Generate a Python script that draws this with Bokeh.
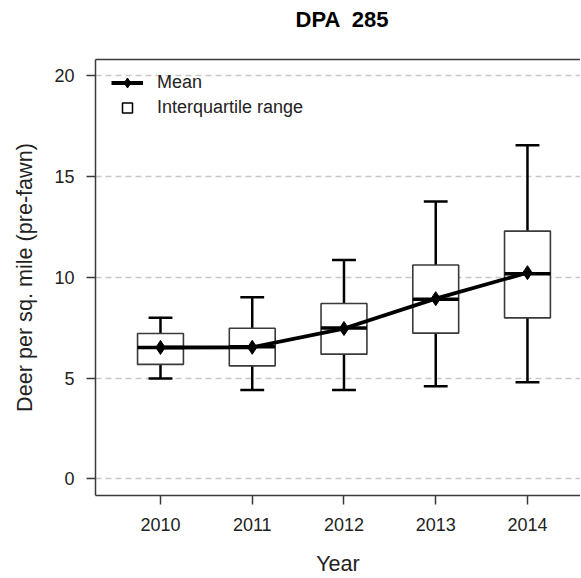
import numpy as np
from bokeh.plotting import figure
from bokeh.layouts import column
from bokeh.models import (ColumnDataSource, FixedTicker, Legend, LegendItem,
                          Range1d, LinearAxis, Div)
from bokeh.embed import file_html
from bokeh.resources import INLINE

# ---- data ----
years = [2010, 2011, 2012, 2013, 2014]
q1 = [5.68, 5.61, 6.19, 7.23, 7.99]
q3 = [7.21, 7.47, 8.70, 10.61, 12.29]
medians = [6.52, 6.55, 7.49, 8.91, 10.18]
means = [6.52, 6.53, 7.46, 8.94, 10.23]
whisker_low = [4.98, 4.41, 4.41, 4.60, 4.79]
whisker_high = [7.99, 9.01, 10.86, 13.76, 16.55]
y_ticks = [0, 5, 10, 15, 20]

title_text = "DPA  285"
x_label = "Year"
y_label = "Deer per sq. mile (pre-fawn)"

BOX_W = 0.5
CAP_W = 0.26
FONT = "Liberation Sans"
AX = "#3a3a3a"
TXT = "#222222"

x = np.array(years, dtype=float)
src = ColumnDataSource(dict(
    x=x, q1=q1, q3=q3, med=medians, mean=means, lo=whisker_low, hi=whisker_high,
    x0=x - BOX_W / 2, x1=x + BOX_W / 2, c0=x - CAP_W / 2, c1=x + CAP_W / 2))

title = Div(text=title_text, width=580, height=40, margin=0,
            styles={"font-family": FONT, "font-size": "22px", "font-weight": "bold",
                    "color": "black", "text-align": "center", "line-height": "40px",
                    "padding-left": "104px", "box-sizing": "border-box",
                    "white-space": "pre", "background-color": "white"})

p = figure(width=580, height=538, output_backend="svg", toolbar_location=None,
           title_location=None, margin=0,
           x_range=Range1d(2009.2916, 2014.578), y_range=Range1d(-0.82, 20.8),
           min_border_left=95, min_border_right=0, min_border_top=19,
           min_border_bottom=83)
p.background_fill_color = "white"
p.border_fill_color = "white"
p.outline_line_color = None

xax = p.below[0]
yax = p.left[0]

# axes
for ax in (xax, yax):
    ax.axis_line_color = AX
    ax.axis_line_width = 1.5
    ax.major_tick_line_color = AX
    ax.major_tick_line_width = 1.5
    ax.major_tick_out = 9
    ax.major_tick_in = 0
    ax.minor_tick_line_color = None
    ax.major_label_text_font = FONT
    ax.major_label_text_font_size = "18px"
    ax.major_label_text_color = TXT
    ax.major_label_text_line_height = 1.0
    ax.axis_label_text_font = FONT
    ax.axis_label_text_font_size = "21.6px"
    ax.axis_label_text_font_style = "normal"
    ax.axis_label_text_color = TXT
    ax.axis_label_text_line_height = 1.0

xax.ticker = FixedTicker(ticks=years)
xax.major_label_overrides = {yr: str(yr) for yr in years}
xax.major_label_standoff = 13
xax.axis_label = x_label
xax.axis_label_standoff = 17

yax.ticker = FixedTicker(ticks=y_ticks)
yax.major_label_standoff = 12
yax.axis_label = y_label
yax.axis_label_standoff = 14

# top border line
top_axis = LinearAxis(ticker=FixedTicker(ticks=[]), axis_line_color=AX,
                      axis_line_width=1.5, major_tick_line_color=None,
                      minor_tick_line_color=None, major_label_text_font_size="0px",
                      major_tick_out=0, major_tick_in=0, major_label_standoff=0,
                      axis_label=None)
p.add_layout(top_axis, "above")

p.xgrid.visible = False
p.ygrid.grid_line_color = "#c8c8c8"
p.ygrid.grid_line_width = 1.5
p.ygrid.grid_line_dash = "6 4"

# whiskers and caps
wk = dict(line_color="black", line_width=2.5, source=src)
p.segment(x0="x", y0="q3", x1="x", y1="hi", **wk)
p.segment(x0="x", y0="lo", x1="x", y1="q1", **wk)
p.segment(x0="c0", y0="hi", x1="c1", y1="hi", **wk)
p.segment(x0="c0", y0="lo", x1="c1", y1="lo", **wk)

# boxes (interquartile range)
p.quad(left="x0", right="x1", bottom="q1", top="q3", fill_color="white",
       line_color=AX, line_width=1.6, source=src)
# medians
p.segment(x0="x0", y0="med", x1="x1", y1="med", line_color="black",
          line_width=3.5, source=src)

# mean line
mean_line = p.line(x="x", y="mean", line_color="black", line_width=3.8, source=src)
mean_pts = p.scatter(x="x", y="mean", marker="diamond", size=14, color="black",
                     source=src)

# legend key for the interquartile range (not drawn in the plot itself)
iqr_key = p.scatter(x="x", y="mean", marker="square", size=13, fill_color="white",
                    line_color="black", line_width=1.5, source=src, visible=False)

legend = Legend(items=[LegendItem(label="Mean", renderers=[mean_line, mean_pts]),
                       LegendItem(label="Interquartile range", renderers=[iqr_key])],
                location=(16, 375), glyph_width=32, glyph_height=25, label_height=25,
                spacing=0, padding=0, margin=0, label_standoff=14,
                label_text_font=FONT, label_text_font_size="18px",
                label_text_color=TXT, border_line_color=None,
                background_fill_alpha=0, inactive_fill_alpha=0)
p.add_layout(legend)

layout = column(title, p, spacing=0, margin=0)
open("out.html", "w").write(file_html(layout, INLINE))
